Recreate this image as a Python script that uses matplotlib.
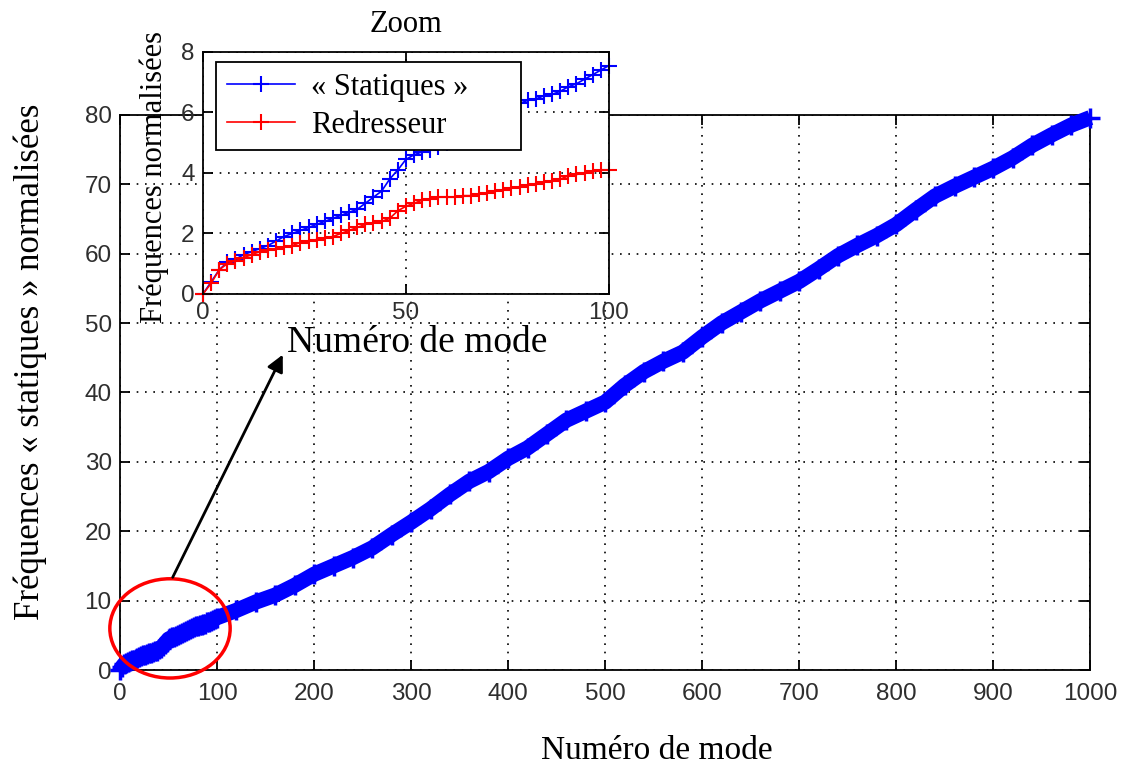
import matplotlib
matplotlib.use("Agg")
import matplotlib.pyplot as plt
from matplotlib.patches import Ellipse
from matplotlib.ticker import MultipleLocator

# Données lues sur la figure
# zoom : modes 0..100 (pas de 2)
modes_zoom = list(range(0, 101, 2))
statiques_zoom = [0.0, 0.4, 0.8, 1.05, 1.15, 1.3, 1.4, 1.5, 1.6, 1.75,
                  1.9, 2.0, 2.1, 2.2, 2.3, 2.4, 2.5, 2.6, 2.7, 2.8,
                  3.0, 3.2, 3.4, 3.8, 4.1, 4.45, 4.6, 4.7, 4.75, 4.85,
                  5.0, 5.15, 5.3, 5.45, 5.6, 5.75, 5.9, 6.0, 6.15, 6.3,
                  6.4, 6.45, 6.55, 6.6, 6.7, 6.85, 6.95, 7.1, 7.25, 7.4, 7.55]
redresseur_zoom = [0.0, 0.35, 0.8, 1.0, 1.1, 1.2, 1.3, 1.4, 1.45, 1.5,
                   1.55, 1.6, 1.7, 1.75, 1.8, 1.85, 1.9, 2.0, 2.1, 2.2,
                   2.3, 2.35, 2.4, 2.5, 2.75, 2.9, 3.0, 3.1, 3.15, 3.2,
                   3.2, 3.2, 3.25, 3.25, 3.3, 3.35, 3.4, 3.45, 3.5, 3.55,
                   3.6, 3.65, 3.7, 3.75, 3.8, 3.9, 3.95, 4.0, 4.05, 4.1, 4.1]

# courbe complète : modes 120..1000 (pas de 20)
modes_suite = list(range(120, 1001, 20))
statiques_suite = [8.6, 9.8, 10.8, 12.2, 13.8, 15.0, 16.2, 17.6, 19.5, 21.3,
                   23.2, 25.3, 27.2, 28.6, 30.5, 32.0, 34.0, 36.0, 37.3, 38.6,
                   41.0, 43.0, 44.5, 45.8, 48.0, 50.0, 51.6, 53.2, 54.6, 56.0,
                   57.8, 59.7, 61.2, 62.6, 64.2, 66.3, 68.3, 69.7, 71.0, 72.3,
                   73.8, 75.6, 77.1, 78.5, 79.6]

modes = modes_zoom + modes_suite
statiques = statiques_zoom + statiques_suite

serif = ['Liberation Serif', 'DejaVu Serif']
sans = ['Liberation Sans', 'DejaVu Sans']
plt.rcParams['font.family'] = sans

fig = plt.figure(figsize=(11.27, 7.69), dpi=100)

# ---- axe principal
ax = fig.add_axes([0.1065, 0.1287, 0.861, 0.722])
ax.plot(modes, statiques, color='blue', lw=11, marker='+', ms=14, mew=2.5,
        clip_on=False, zorder=3, solid_capstyle='butt')
ax.set_xlim(0, 1000)
ax.set_ylim(0, 80)
ax.xaxis.set_major_locator(MultipleLocator(100))
ax.yaxis.set_major_locator(MultipleLocator(10))
ax.grid(True, linestyle=(0, (1, 4)), color='black', lw=1.2)
ax.tick_params(direction='in', top=True, right=True, length=7, width=1.3,
               labelsize=17.5, labelcolor='#2e2e2e', pad=6)
ax.tick_params(axis='x', pad=9)
for s in ax.spines.values():
    s.set_linewidth(1.3)
ax.set_xlabel("Numéro de mode", family=serif, fontsize=24, va='center')
ax.xaxis.set_label_coords(0.553, -0.145)
ax.set_ylabel("Fréquences « statiques » normalisées", family=serif,
              fontsize=25, va='center')
ax.yaxis.set_label_coords(-0.093, 0.555)

# cercle rouge + flèche
ax.add_patch(Ellipse((51.5, 6.0), 124, 14.3, fill=False, edgecolor='red',
                     lw=2.5, clip_on=False, zorder=4))
ax.annotate("", xy=(169, 45.8), xytext=(53, 13),
            arrowprops=dict(arrowstyle='-|>', color='black', lw=2,
                            mutation_scale=25),
            annotation_clip=False, zorder=4)

# ---- encart zoom
axz = fig.add_axes([0.1801, 0.6177, 0.3602, 0.3147])
axz.set_facecolor('white')
axz.plot(modes_zoom, statiques_zoom, color='blue', lw=1.2, marker='+',
         ms=12, mew=1.5, clip_on=False, label="« Statiques »")
axz.plot(modes_zoom, redresseur_zoom, color='red', lw=1.2, marker='+',
         ms=12, mew=1.5, clip_on=False, label="Redresseur")
axz.set_xlim(0, 100)
axz.set_ylim(0, 8)
axz.xaxis.set_major_locator(MultipleLocator(50))
axz.yaxis.set_major_locator(MultipleLocator(2))
axz.grid(True, linestyle=(0, (1, 4)), color='black', lw=1.2)
axz.tick_params(direction='in', top=True, right=True, length=7, width=1.3,
                labelsize=17.5, labelcolor='#2e2e2e', pad=6)
for s in axz.spines.values():
    s.set_linewidth(1.3)
axz.set_title("Zoom", family=serif, fontsize=22, y=1.05)
axz.set_xlabel("Numéro de mode", family=serif, fontsize=27, va='center')
axz.xaxis.set_label_coords(0.527, -0.202)
axz.set_ylabel("Fréquences normalisées", family=serif, fontsize=22,
               va='center')
axz.yaxis.set_label_coords(-0.12, 0.483)
leg = axz.legend(loc='upper left', bbox_to_anchor=(0.032, 0.0, 0.751, 0.959),
                 mode='expand', prop={'family': serif, 'size': 22},
                 fancybox=False, framealpha=1, edgecolor='black',
                 borderpad=0.35, labelspacing=0.3, handlelength=2.25,
                 handletextpad=0.5, borderaxespad=0)
leg.get_frame().set_linewidth(1.3)

fig.savefig("out.png", dpi=100)
